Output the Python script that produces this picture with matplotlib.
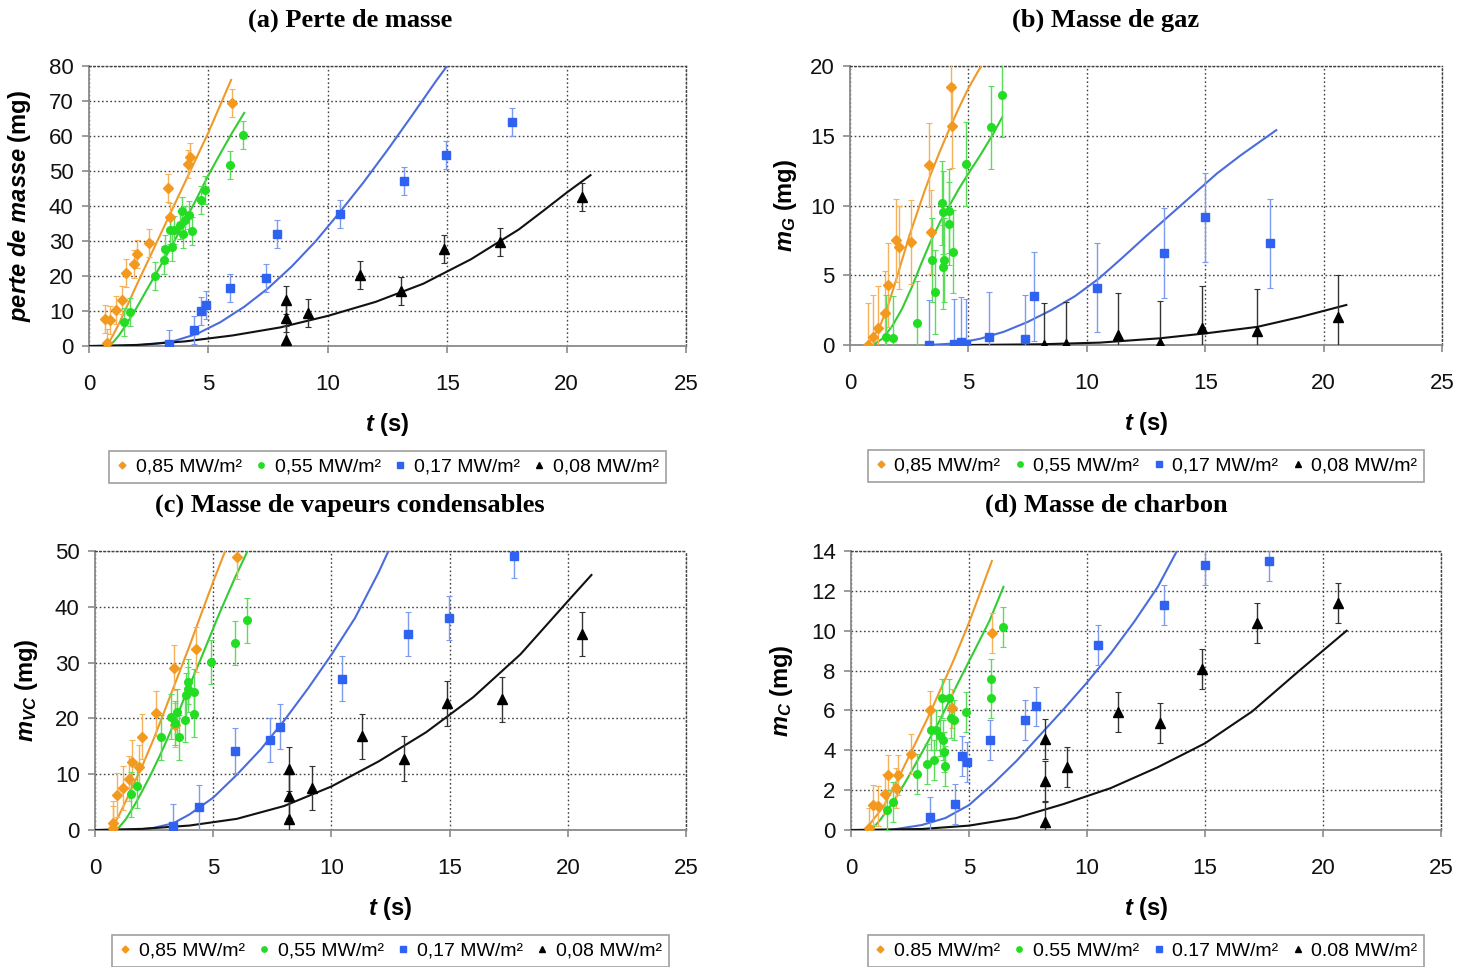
import matplotlib
matplotlib.use("Agg")
import matplotlib.pyplot as plt
from matplotlib.lines import Line2D

plt.rcParams['font.family'] = ['Liberation Sans', 'DejaVu Sans']
plt.rcParams['mathtext.fontset'] = 'custom'
plt.rcParams['mathtext.it'] = 'Liberation Sans:italic:bold'
plt.rcParams['mathtext.rm'] = 'Liberation Sans:bold'
plt.rcParams['mathtext.bf'] = 'Liberation Sans:bold'

# ---------------- data ----------------
SERIES_LABELS_COMMA = ["0,85 MW/m²", "0,55 MW/m²", "0,17 MW/m²", "0,08 MW/m²"]
SERIES_LABELS_DOT = ["0.85 MW/m²", "0.55 MW/m²", "0.17 MW/m²", "0.08 MW/m²"]
TITLES = ["(a) Perte de masse", "(b) Masse de gaz",
          "(c) Masse de vapeurs condensables", "(d) Masse de charbon"]
YLABELS = [r"$perte\ de\ masse$ (mg)", r"$m_{G}$ (mg)", r"$m_{VC}$ (mg)", r"$m_{C}$ (mg)"]
XLABEL = r"$t$ (s)"
X_TICKS = [0, 5, 10, 15, 20, 25]
Y_TICKS_A = [0, 10, 20, 30, 40, 50, 60, 70, 80]
Y_TICKS_B = [0, 5, 10, 15, 20]
Y_TICKS_C = [0, 10, 20, 30, 40, 50]
Y_TICKS_D = [0, 2, 4, 6, 8, 10, 12, 14]

# (a) perte de masse — measurements
A_085_T = [0.67, 0.74, 0.88, 1.13, 1.40, 1.54, 1.90, 2.00, 2.53, 3.30, 3.40, 4.15, 4.25, 5.99]
A_085_Y = [7.8, 0.9, 7.3, 10.2, 13.2, 21.0, 23.3, 26.2, 29.5, 45.2, 36.9, 52.0, 54.0, 69.4]
A_055_T = [1.48, 1.72, 2.77, 3.12, 3.19, 3.40, 3.47, 3.58, 3.82, 3.89, 3.92, 4.03, 4.17, 4.32, 4.69, 4.87, 5.92, 6.43]
A_055_Y = [7.0, 9.7, 19.9, 24.7, 27.8, 33.2, 28.3, 33.2, 34.5, 38.6, 32.0, 36.1, 37.3, 33.0, 41.6, 44.7, 51.6, 60.2]
A_017_T = [3.33, 4.41, 4.70, 4.91, 5.89, 7.41, 7.86, 10.5, 13.2, 14.96, 17.73]
A_017_Y = [0.7, 4.7, 10.0, 11.6, 16.5, 19.5, 32.1, 37.8, 47.1, 54.5, 63.9]
A_008_T = [8.24, 8.24, 8.24, 9.19, 11.34, 13.05, 14.87, 17.23, 20.63]
A_008_Y = [1.6, 8.1, 13.2, 9.4, 20.2, 15.7, 27.6, 29.7, 42.6]
A_ERR = [4.0, 4.0, 4.0, 4.0]
# (a) model curves
A_M085_T = [0.7, 0.85, 1.0, 1.25, 1.5, 2.0, 3.0, 4.0, 5.0, 5.95]
A_M085_Y = [0.0, 1.2, 3.0, 6.3, 10.0, 17.5, 32.0, 46.5, 61.0, 76.0]
A_M055_T = [0.75, 1.0, 1.25, 1.5, 2.0, 2.5, 3.0, 3.5, 4.0, 4.5, 5.0, 5.5, 6.0, 6.5]
A_M055_Y = [0.0, 1.0, 3.0, 5.5, 11.0, 17.0, 23.0, 29.0, 35.5, 42.0, 48.8, 55.0, 61.0, 66.6]
A_M017_T = [1.5, 2.5, 3.5, 4.5, 5.5, 6.5, 7.5, 8.5, 9.5, 10.5, 11.5, 12.5, 13.5, 14.5, 15.1]
A_M017_Y = [0.0, 0.4, 1.3, 3.4, 6.8, 11.2, 16.5, 22.8, 30.0, 38.2, 46.8, 56.0, 65.6, 75.4, 81.0]
A_M008_T = [0.0, 2.0, 4.0, 6.0, 8.0, 10.0, 12.0, 14.0, 16.0, 18.0, 19.0, 20.0, 21.0]
A_M008_Y = [0.0, 0.3, 1.3, 3.0, 5.3, 8.6, 12.6, 17.8, 24.8, 33.3, 38.5, 43.8, 48.8]

# (b) masse de gaz — measurements
B_085_T = [0.77, 0.98, 1.19, 1.47, 1.61, 1.96, 2.07, 2.56, 3.35, 3.42, 4.29, 4.26]
B_085_Y = [0.0, 0.6, 1.2, 2.3, 4.3, 7.5, 7.0, 7.4, 12.9, 8.1, 15.7, 18.5]
B_055_T = [1.54, 1.82, 2.82, 3.45, 3.59, 3.87, 3.91, 3.93, 3.97, 4.19, 4.19, 4.33, 4.89, 5.94, 6.42]
B_055_Y = [0.6, 0.5, 1.6, 6.1, 3.8, 10.2, 9.5, 5.6, 6.1, 9.6, 8.7, 6.7, 13.0, 15.6, 17.9]
B_017_T = [3.35, 4.40, 4.68, 4.89, 5.89, 7.37, 7.79, 10.45, 13.26, 14.98, 17.72]
B_017_Y = [0.0, 0.07, 0.24, 0.07, 0.6, 0.4, 3.5, 4.1, 6.6, 9.15, 7.3]
B_008_T = [8.18, 9.13, 11.3, 13.08, 14.88, 17.2, 20.62]
B_008_Y = [0.0, 0.1, 0.7, 0.17, 1.24, 1.0, 2.03]
B_ERR = [3.0, 3.0, 3.2, 3.0]
# (b) model curves
B_M085_T = [0.7, 1.0, 1.3, 1.6, 1.9, 2.2, 2.5, 2.8, 3.1, 3.4, 3.8, 4.2, 4.6, 5.0, 5.4, 5.66]
B_M085_Y = [0.0, 0.6, 1.5, 2.8, 4.4, 6.1, 7.8, 9.3, 10.8, 12.2, 13.9, 15.5, 17.0, 18.4, 19.6, 20.3]
B_M055_T = [0.98, 1.4, 1.8, 2.2, 2.6, 3.0, 3.4, 3.8, 4.2, 4.6, 5.0, 5.5, 6.0, 6.42]
B_M055_Y = [0.0, 0.5, 1.4, 2.6, 4.1, 5.8, 7.4, 8.8, 10.0, 11.2, 12.3, 13.6, 15.0, 16.3]
B_M017_T = [3.35, 4.5, 5.5, 6.5, 7.5, 8.5, 9.5, 10.5, 11.5, 12.5, 13.5, 14.5, 15.5, 16.5, 17.5, 18.0]
B_M017_Y = [0.0, 0.12, 0.45, 0.95, 1.65, 2.5, 3.5, 4.75, 6.25, 7.8, 9.3, 10.8, 12.3, 13.6, 14.8, 15.4]
B_M008_T = [5.0, 8.0, 10.55, 13.08, 15.05, 17.2, 19.0, 20.96]
B_M008_Y = [0.0, 0.05, 0.17, 0.48, 0.84, 1.3, 2.0, 2.87]

# (c) masse de vapeurs condensables — measurements
C_085_T = [0.77, 0.75, 0.94, 1.17, 1.45, 1.55, 1.87, 1.97, 2.58, 3.35, 3.38, 4.27, 5.99]
C_085_Y = [0.3, 1.2, 6.3, 7.5, 9.2, 12.2, 11.3, 16.7, 20.9, 29.1, 18.8, 32.4, 49.0]
C_055_T = [1.51, 1.79, 2.79, 3.20, 3.45, 3.38, 3.56, 3.80, 3.85, 3.92, 3.94, 4.18, 4.18, 4.89, 5.94, 6.45]
C_055_Y = [6.4, 7.9, 16.6, 20.3, 21.2, 19.2, 16.6, 19.7, 24.2, 25.2, 26.6, 24.8, 20.7, 30.1, 33.5, 37.6]
C_017_T = [3.31, 4.41, 5.92, 7.39, 7.82, 10.46, 13.25, 14.97, 17.73]
C_017_Y = [0.7, 4.1, 14.2, 16.1, 18.5, 27.1, 35.1, 38.0, 49.1]
C_008_T = [8.2, 8.2, 8.2, 9.17, 11.3, 13.07, 14.87, 17.2, 20.62]
C_008_Y = [1.9, 6.1, 10.9, 7.5, 16.8, 12.8, 22.7, 23.4, 35.1]
C_ERR = [4.0, 4.0, 4.0, 4.0]
# (c) model curves
C_M085_T = [0.63, 0.8, 1.0, 1.25, 1.5, 2.0, 2.5, 3.0, 3.5, 4.0, 4.5, 5.0, 5.6]
C_M085_Y = [0.0, 1.0, 2.5, 4.7, 7.0, 11.5, 16.5, 22.0, 27.5, 33.0, 38.8, 44.5, 51.0]
C_M055_T = [0.8, 1.0, 1.3, 1.69, 2.0, 2.39, 2.75, 3.1, 3.45, 3.8, 4.51, 5.21, 5.92, 6.51]
C_M055_Y = [0.0, 0.4, 1.9, 4.6, 7.0, 10.2, 13.4, 16.7, 20.2, 23.9, 31.0, 38.3, 45.2, 50.5]
C_M017_T = [1.69, 2.5, 3.31, 4.0, 5.0, 6.0, 7.0, 8.0, 9.0, 10.0, 11.0, 12.0, 12.5]
C_M017_Y = [0.0, 0.4, 1.2, 2.8, 5.8, 9.9, 14.4, 19.6, 25.3, 31.4, 38.0, 46.2, 50.8]
C_M008_T = [0.0, 2.0, 4.0, 6.0, 8.0, 10.0, 12.0, 14.0, 16.0, 18.0, 20.0, 21.0]
C_M008_Y = [0.0, 0.2, 0.8, 2.0, 4.3, 7.8, 12.3, 17.5, 23.8, 31.5, 41.0, 45.7]

# (d) masse de charbon — measurements
D_085_T = [0.77, 0.94, 1.15, 1.44, 1.58, 1.90, 2.00, 2.54, 3.34, 4.30, 5.97]
D_085_Y = [0.08, 1.25, 1.2, 1.8, 2.76, 2.1, 2.76, 3.8, 6.0, 6.1, 9.87]
D_055_T = [1.51, 1.79, 2.80, 3.23, 3.41, 3.52, 3.59, 3.76, 3.87, 3.90, 3.93, 3.97, 4.15, 4.25, 4.35, 4.89, 5.94, 5.94, 6.44]
D_055_Y = [1.0, 1.42, 2.8, 3.3, 5.0, 3.5, 5.0, 4.7, 6.6, 4.5, 3.9, 3.2, 6.6, 5.6, 5.5, 5.9, 6.6, 7.6, 10.2]
D_017_T = [3.34, 4.42, 4.72, 4.92, 5.90, 7.39, 7.82, 10.48, 13.26, 14.98, 17.73]
D_017_Y = [0.64, 1.29, 3.7, 3.4, 4.5, 5.5, 6.2, 9.3, 11.3, 13.3, 13.5]
D_008_T = [8.2, 8.2, 8.2, 9.15, 11.3, 13.08, 14.88, 17.21, 20.64]
D_008_Y = [0.42, 2.47, 4.55, 3.18, 5.94, 5.35, 8.06, 10.4, 11.37]
D_ERR = [1.0, 1.0, 1.0, 1.0]
# (d) model curves
D_M085_T = [0.59, 0.8, 1.0, 1.37, 1.8, 2.35, 2.85, 3.34, 3.83, 4.32, 5.0, 5.97]
D_M085_Y = [0.0, 0.3, 0.6, 1.17, 2.1, 3.43, 4.65, 5.85, 7.15, 8.44, 10.4, 13.5]
D_M055_T = [0.87, 1.2, 1.65, 2.0, 2.35, 3.06, 3.76, 4.46, 5.17, 5.87, 6.46]
D_M055_Y = [0.03, 0.45, 1.17, 1.8, 2.5, 4.0, 5.5, 7.2, 8.86, 10.5, 12.2]
D_M017_T = [1.65, 3.0, 4.0, 5.0, 6.0, 7.0, 8.0, 9.0, 10.0, 11.0, 12.0, 13.0, 13.81]
D_M017_Y = [0.0, 0.25, 0.6, 1.25, 2.3, 3.45, 4.75, 6.05, 7.4, 8.85, 10.45, 12.2, 14.0]
D_M008_T = [0.0, 3.0, 5.0, 7.0, 9.0, 11.0, 13.0, 15.0, 17.0, 19.0, 21.0]
D_M008_Y = [0.0, 0.05, 0.22, 0.6, 1.3, 2.1, 3.15, 4.35, 5.95, 8.0, 10.0]

# ---------------- styles ----------------
MARKERS = ['D', 'o', 's', '^']
MSIZES = [5.0, 5.5, 5.5, 6.5]
MCOLORS = ['#F39A1E', '#22DD22', '#2F62F0', '#000000']
ECOLORS = ['#F6B25A', '#5BDD5B', '#7C9BEE', '#333333']
LCOLORS = ['#EE9A2A', '#33CC33', '#4A6CDD', '#111111']

fig = plt.figure(figsize=(14.73, 9.67), dpi=100)
W, H = 1473.0, 967.0

panels = [
    dict(box=(89, 66, 686, 346), yt=Y_TICKS_A, ylim=80, title_x=350, title_y=20,
         meas=[(A_085_T, A_085_Y), (A_055_T, A_055_Y), (A_017_T, A_017_Y), (A_008_T, A_008_Y)],
         model=[(A_M085_T, A_M085_Y), (A_M055_T, A_M055_Y), (A_M017_T, A_M017_Y), (A_M008_T, A_M008_Y)],
         err=A_ERR, labels=SERIES_LABELS_COMMA, ylx=33),
    dict(box=(850, 66, 1442, 345), yt=Y_TICKS_B, ylim=20, title_x=1106, title_y=20,
         meas=[(B_085_T, B_085_Y), (B_055_T, B_055_Y), (B_017_T, B_017_Y), (B_008_T, B_008_Y)],
         model=[(B_M085_T, B_M085_Y), (B_M055_T, B_M055_Y), (B_M017_T, B_M017_Y), (B_M008_T, B_M008_Y)],
         err=B_ERR, labels=SERIES_LABELS_COMMA, ylx=799),
    dict(box=(95, 551, 686, 830), yt=Y_TICKS_C, ylim=50, title_x=350, title_y=505,
         meas=[(C_085_T, C_085_Y), (C_055_T, C_055_Y), (C_017_T, C_017_Y), (C_008_T, C_008_Y)],
         model=[(C_M085_T, C_M085_Y), (C_M055_T, C_M055_Y), (C_M017_T, C_M017_Y), (C_M008_T, C_M008_Y)],
         err=C_ERR, labels=SERIES_LABELS_COMMA, ylx=40),
    dict(box=(851, 551, 1441, 830), yt=Y_TICKS_D, ylim=14, title_x=1106, title_y=505,
         meas=[(D_085_T, D_085_Y), (D_055_T, D_055_Y), (D_017_T, D_017_Y), (D_008_T, D_008_Y)],
         model=[(D_M085_T, D_M085_Y), (D_M055_T, D_M055_Y), (D_M017_T, D_M017_Y), (D_M008_T, D_M008_Y)],
         err=D_ERR, labels=SERIES_LABELS_DOT, ylx=795),
]

for i, p in enumerate(panels):
    x0, y0, x1, y1 = p['box']
    ax = fig.add_axes([x0 / W, 1 - y1 / H, (x1 - x0) / W, (y1 - y0) / H])
    ax.set_xlim(0, 25)
    ax.set_ylim(0, p['ylim'])
    ax.set_xticks(X_TICKS)
    ax.set_yticks(p['yt'])
    ax.set_axisbelow(True)
    ax.grid(True, linestyle=(0, (1.2, 1.8)), color='#444444', linewidth=1.0)
    for s in ['top', 'right']:
        ax.spines[s].set_linestyle((0, (1.2, 1.8)))
        ax.spines[s].set_color('#444444')
        ax.spines[s].set_linewidth(1.0)
    for s in ['left', 'bottom']:
        ax.spines[s].set_color('#8a8a8a')
        ax.spines[s].set_linewidth(1.3)
    ax.tick_params(axis='both', which='major', labelsize=16, color='#8a8a8a',
                   length=5, width=1.2, direction='out', labelcolor='#111111')
    ax.tick_params(axis='x', pad=15)
    ax.tick_params(axis='y', pad=6)

    for k, ((mt, my), (lt, ly)) in enumerate(zip(p['meas'], p['model'])):
        ax.plot(lt, ly, color=LCOLORS[k], linewidth=1.5, zorder=3)
        ax.errorbar(mt, my, yerr=p['err'][k], fmt=MARKERS[k], color=MCOLORS[k],
                    markersize=MSIZES[k], ecolor=ECOLORS[k], elinewidth=1.0,
                    capsize=2, capthick=0.8, zorder=4)

    ax.set_xlabel(XLABEL, fontsize=17, fontweight='bold')
    ax.xaxis.set_label_coords(0.5, -65.0 / (y1 - y0))
    ax.set_ylabel(YLABELS[i], fontsize=17, fontweight='bold')
    ax.yaxis.set_label_coords((p['ylx'] - x0) / (x1 - x0), 0.5)

    handles = [Line2D([], [], marker=MARKERS[k], color=MCOLORS[k], linestyle='None',
                      markersize=MSIZES[k] * 0.7) for k in range(4)]
    leg = ax.legend(handles, p['labels'], loc='center', bbox_to_anchor=(0.5, -121.0 / (y1 - y0)),
                    ncol=4, frameon=True, fancybox=False, fontsize=14,
                    handlelength=0.6, handletextpad=0.4, columnspacing=0.7,
                    borderpad=0.35, borderaxespad=0)
    leg.get_frame().set_edgecolor('#888888')
    leg.get_frame().set_linewidth(1.2)

    fig.text(p['title_x'] / W, 1 - p['title_y'] / H, TITLES[i], ha='center', va='center',
             fontsize=19, fontweight='bold', family='Liberation Serif')

fig.savefig('out.png', dpi=100)
